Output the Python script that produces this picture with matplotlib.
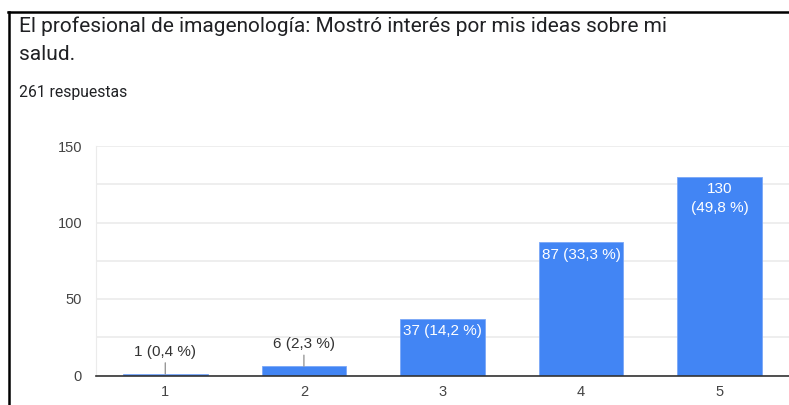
import matplotlib
matplotlib.use("Agg")
import matplotlib.pyplot as plt
from matplotlib.lines import Line2D

categories = ["1", "2", "3", "4", "5"]
counts = [1, 6, 37, 87, 130]
percents = ["0,4", "2,3", "14,2", "33,3", "49,8"]
yticks = [0, 50, 100, 150]

title_lines = ["El profesional de imagenología: Mostró interés por mis ideas sobre mi", "salud."]
subtitle = "261 respuestas"

BLUE = "#4285F4"
TICK_COLOR = "#444444"
GRID = "#ebebeb"


def main():
    fig = plt.figure(figsize=(7.89, 4.05), dpi=100)
    ax = fig.add_axes([96 / 789, 29.5 / 405, 693 / 789, 229.5 / 405])

    x = list(range(1, len(categories) + 1))
    ax.bar(x, counts, width=0.61, color=BLUE, edgecolor="#7aa7f7", linewidth=0.6, zorder=3)

    ax.set_xlim(0.5, 5.5)
    ax.set_ylim(0, 150)
    ax.set_yticks(yticks)
    ax.set_yticks([25, 75, 125], minor=True)
    ax.set_xticks(x)
    ax.set_xticklabels(categories)
    ax.tick_params(axis="both", which="both", length=0, labelsize=10.5, labelcolor=TICK_COLOR)
    ax.tick_params(axis="y", pad=10)
    ax.tick_params(axis="x", pad=7)
    for lab in ax.get_xticklabels() + ax.get_yticklabels():
        lab.set_fontfamily("Liberation Sans")
    ax.grid(axis="y", which="both", color=GRID, linewidth=1.2, zorder=0)

    for side in ["top", "right"]:
        ax.spines[side].set_visible(False)
    ax.spines["left"].set_color(GRID)
    ax.spines["bottom"].set_color("#333333")
    ax.spines["bottom"].set_linewidth(1.2)
    ax.spines["bottom"].set_zorder(4)

    # value labels: inside for tall bars, above with a leader line for short ones
    for xi, c, p in zip(x, counts, percents):
        if c >= 100:
            label = f"{c}\n({p} %)"
        else:
            label = f"{c} ({p} %)"
        if c >= 20:
            ax.annotate(label, xy=(xi, c), xytext=(0, -4), textcoords="offset points",
                        ha="center", va="top", color="white", fontsize=11,
                        family="Liberation Sans", linespacing=1.4, zorder=5)
        else:
            ax.annotate(label, xy=(xi, c), xytext=(0, 11), textcoords="offset points",
                        ha="center", va="bottom", color="#333333", fontsize=11,
                        family="Liberation Sans", zorder=5,
                        arrowprops=dict(arrowstyle="-", color="#999999", lw=1,
                                        shrinkA=1, shrinkB=0))

    # header text
    fig.text(19 / 789, 1 - 26 / 405, title_lines[0], fontsize=15, family="Roboto",
             color="#202124", va="center", ha="left")
    fig.text(19 / 789, 1 - 54 / 405, title_lines[1], fontsize=15, family="Roboto",
             color="#202124", va="center", ha="left")
    fig.text(19 / 789, 1 - 92 / 405, subtitle, fontsize=11.3, family="Roboto",
             color="#202124", va="center", ha="left")

    # screenshot frame
    fig.add_artist(Line2D([9 / 789, 9 / 789], [0, 1 - 12 / 405], color="black",
                          linewidth=1.8, transform=fig.transFigure))
    fig.add_artist(Line2D([8 / 789, 1], [1 - 12 / 405, 1 - 12 / 405], color="black",
                          linewidth=1.8, transform=fig.transFigure))

    fig.savefig("out.png", dpi=100)


if __name__ == "__main__":
    main()
